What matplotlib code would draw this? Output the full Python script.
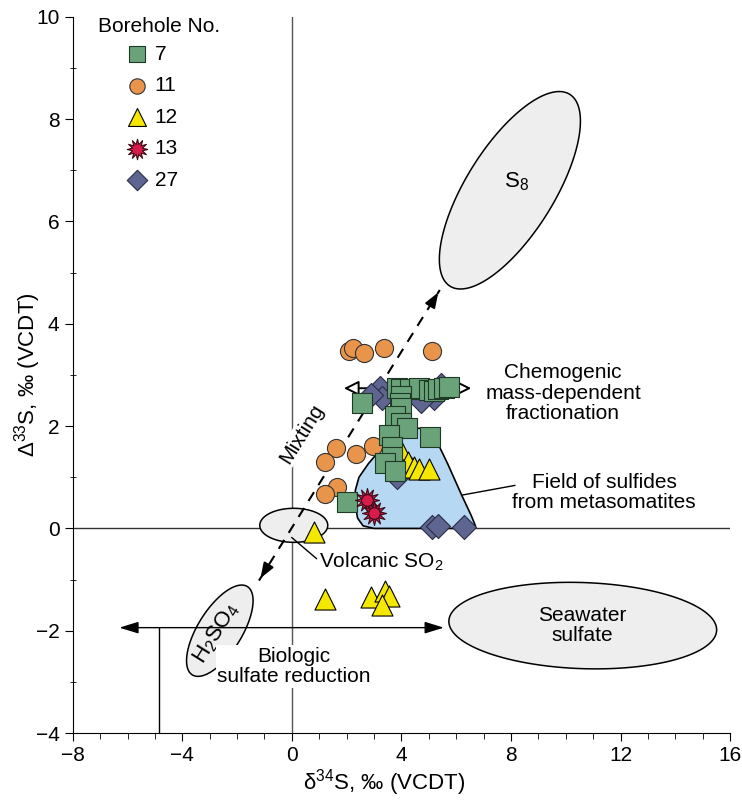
import numpy as np
import matplotlib
matplotlib.use("Agg")
import matplotlib.pyplot as plt
from matplotlib.patches import Polygon, FancyArrowPatch

plt.rcParams['font.family'] = ['Liberation Sans', 'DejaVu Sans']
plt.rcParams['mathtext.fontset'] = 'custom'
plt.rcParams['mathtext.rm'] = 'Liberation Sans'
plt.rcParams['mathtext.it'] = 'Liberation Sans:italic'
plt.rcParams['font.size'] = 15

# === data: delta34S (x) and Delta33S (y) per borehole ===
x7 = [3.85, 4.0, 4.3, 4.65, 5.0, 5.2, 5.35, 5.55, 5.75, 4.0, 2.55, 3.95, 4.0,
      3.75, 4.0, 4.2, 3.55, 5.05, 3.65, 3.65, 3.4, 3.75, 2.0]
y7 = [2.74, 2.72, 2.72, 2.74, 2.7, 2.68, 2.72, 2.74, 2.76, 2.58, 2.45, 2.45, 2.36,
      2.19, 2.07, 1.96, 1.82, 1.78, 1.59, 1.39, 1.27, 1.13, 0.51]

x11 = [2.1, 2.25, 2.65, 3.35, 5.1, 1.6, 1.2, 2.35, 2.95, 1.65, 1.2]
y11 = [3.46, 3.53, 3.42, 3.53, 3.46, 1.57, 1.3, 1.45, 1.62, 0.8, 0.68]

x12 = [3.95, 4.25, 4.45, 4.65, 5.0, 0.8, 1.2, 2.9, 3.4, 3.55, 3.3]
y12 = [1.56, 1.29, 1.2, 1.17, 1.17, -0.08, -1.38, -1.35, -1.22, -1.32, -1.5]

x13 = [2.75, 3.0]
y13 = [0.55, 0.3]

x27 = [3.2, 3.3, 2.9, 5.45, 5.2, 4.7, 4.1, 3.85, 5.1, 5.35, 6.3]
y27 = [2.74, 2.54, 2.6, 2.8, 2.54, 2.5, 1.3, 1.0, 0.03, 0.05, 0.03]

# field of sulfides from metasomatites (outline)
field_x = [2.3, 2.32, 2.45, 2.8, 3.28, 3.83, 4.3, 4.8, 5.25, 5.7, 6.2, 6.55, 6.7, 6.5, 3.0, 2.6, 2.4]
field_y = [0.5, 0.75, 1.0, 1.27, 1.57, 1.9, 1.97, 1.95, 1.75, 1.25, 0.65, 0.25, 0.05, 0.0, 0.0, 0.05, 0.2]

# pixel-per-unit scale, used to draw rotated ellipses in display-like units
SX, SY = 27.4, 51.1


def blob(cx, cy, a, b, ang):
    t = np.linspace(0, 2 * np.pi, 200)
    u, v = a * np.cos(t), b * np.sin(t)
    r = np.deg2rad(ang)
    px = u * np.cos(r) - v * np.sin(r)
    py = u * np.sin(r) + v * np.cos(r)
    return np.column_stack([cx + px / SX, cy + py / SY])


fig = plt.figure(figsize=(7.42, 8.02), dpi=100)
ax = fig.add_axes([0.098, 0.086, 0.886, 0.893])
ax.set_xlim(-8, 16)
ax.set_ylim(-4, 10)

# reference lines
ax.axvline(0, color='#555555', lw=1.0, zorder=1)
ax.axhline(0, color='#333333', lw=1.0, zorder=1)

# end-member fields
gray = '#eeeeee'
for cx, cy, a, b, ang in [(7.96, 6.61, 113, 44, 58), (10.62, -1.9, 134, 43, -2),
                          (-2.63, -2.0, 52, 22, 58), (0.07, 0.06, 34, 17, 0)]:
    ax.add_patch(Polygon(blob(cx, cy, a, b, ang), closed=True, fc=gray, ec='black', lw=1.1, zorder=2))

ax.add_patch(Polygon(np.column_stack([field_x, field_y]), closed=True,
                     fc='#b6d8f2', ec='black', lw=1.2, zorder=2))

# mixing line
ax.plot([-1.2, 5.4], [-1.02, 4.66], ls=(0, (5, 4)), color='black', lw=1.5, zorder=3)
ax.annotate('', xy=(5.4, 4.66), xytext=(5.0, 4.31),
            arrowprops=dict(arrowstyle='-|>,head_length=0.6,head_width=0.22', color='black', lw=1.5), zorder=3)
ax.annotate('', xy=(-1.2, -1.02), xytext=(-0.8, -0.67),
            arrowprops=dict(arrowstyle='-|>,head_length=0.6,head_width=0.22', color='black', lw=1.5), zorder=3)

# chemogenic fractionation arrow (open heads)
ax.add_patch(FancyArrowPatch((1.8, 2.74), (6.65, 2.74),
                             arrowstyle='<|-|>,head_length=0.5,head_width=0.25', mutation_scale=18,
                             fc='white', ec='black', lw=1.4, zorder=5))

# biologic sulfate reduction arrow
ax.add_patch(FancyArrowPatch((-6.4, -1.94), (5.65, -1.94),
                             arrowstyle='<|-|>,head_length=0.65,head_width=0.2', mutation_scale=18,
                             fc='black', ec='black', lw=1.0, zorder=3))
ax.plot([-4.85, -4.85], [-1.94, -4], color='black', lw=1.0, zorder=3)

# leader lines
ax.plot([0.0, 0.9], [-0.18, -0.59], color='black', lw=1.0, zorder=3)
ax.plot([6.2, 8.14], [0.65, 0.84], color='black', lw=1.0, zorder=3)

# points
ax.scatter(x27, y27, marker='D', s=150, c='#5e6591', edgecolors='#2a2d45', lw=0.8, zorder=6, label='27')
ax.scatter(x12, y12, marker='^', s=230, c='#f5e800', edgecolors='black', lw=0.8, zorder=6, label='12')
ax.scatter(x11, y11, marker='o', s=170, c='#e8944a', edgecolors='#333333', lw=0.8, zorder=6, label='11')
ax.scatter(x7, y7, marker='s', s=190, c='#6aa279', edgecolors='#1e3a26', lw=0.8, zorder=7, label='7')
ax.scatter(x13, y13, marker=(12, 1, 0), s=300, c='#d81b4a', edgecolors='#3a0a15', lw=0.8, zorder=8, label='13')
ax.scatter(x13, y13, marker='o', s=70, c='#d81b4a', edgecolors='#3a0a15', lw=0.8, zorder=9)

# labels
ax.text(8.2, 6.77, 'S$_8$', ha='center', va='center', fontsize=16, zorder=4)
ax.text(10.6, -1.9, 'Seawater\nsulfate', ha='center', va='center', fontsize=15, linespacing=1.1, zorder=4)
ax.text(-2.75, -2.05, 'H$_2$SO$_4$', ha='center', va='center', rotation=58, fontsize=16, zorder=4)
ax.text(1.0, -0.66, 'Volcanic SO$_2$', ha='left', va='center', fontsize=15, zorder=4)
ax.text(0.35, 1.85, 'Mixting', ha='center', va='center', rotation=58, fontsize=15, zorder=4,
        bbox=dict(fc='white', ec='none', pad=0.5))
ax.text(0.07, -2.7, 'Biologic\nsulfate reduction', ha='center', va='center', fontsize=15,
        linespacing=1.1, zorder=4, bbox=dict(fc='white', ec='none', pad=1))
ax.text(9.9, 2.64, 'Chemogenic\nmass-dependent\nfractionation', ha='center', va='center',
        fontsize=15, linespacing=1.1, zorder=4)
ax.text(11.4, 0.7, 'Field of sulfides\nfrom metasomatites', ha='center', va='center',
        fontsize=15, linespacing=1.1, zorder=4)

# axes styling
for s in ['top', 'right']:
    ax.spines[s].set_visible(False)
ax.set_xticks(range(-8, 17, 4))
ax.set_xticks(range(-8, 17), minor=True)
ax.set_yticks(range(-4, 11, 2))
ax.set_yticks(range(-4, 11), minor=True)
ax.tick_params(which='major', direction='out', length=6, labelsize=15)
ax.tick_params(axis='x', which='minor', direction='out', length=4)
ax.tick_params(axis='y', which='minor', direction='inout', length=5)
ax.set_xlabel('δ$^{34}$S, ‰ (VCDT)', fontsize=16)
ax.set_ylabel('Δ$^{33}$S, ‰ (VCDT)', fontsize=16)
ax.xaxis.set_label_coords(0.473, -0.047)
ax.yaxis.set_label_coords(-0.045, 0.5)

# legend
ax.text(0.038, 0.986, 'Borehole No.', transform=ax.transAxes, ha='left', va='center', fontsize=15)
handles, labels = ax.get_legend_handles_labels()
order = ['7', '11', '12', '13', '27']
hmap = dict(zip(labels, handles))
leg = ax.legend([hmap[k] for k in order], order, loc='upper left',
                bbox_to_anchor=(0.082, 0.961), frameon=False, fontsize=15,
                labelspacing=0.6, handletextpad=0.35, borderaxespad=0, borderpad=0,
                handlelength=1.0, markerscale=0.85)

fig.savefig('out.png', dpi=100)
